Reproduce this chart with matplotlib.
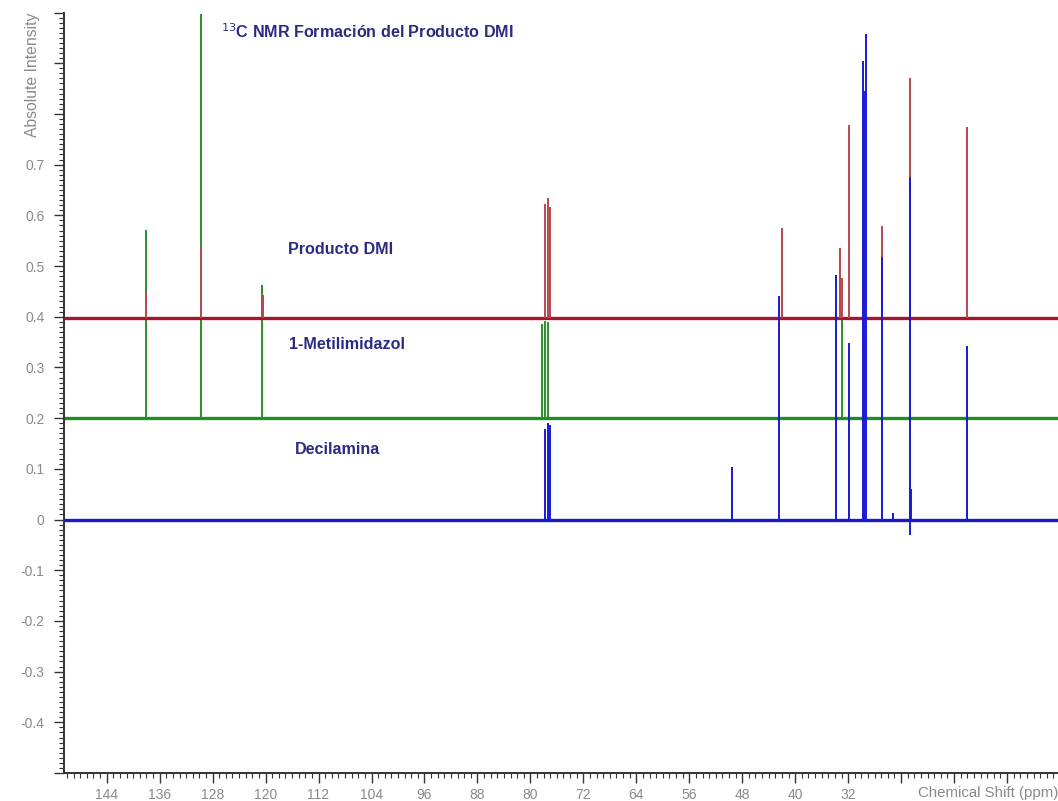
import matplotlib
matplotlib.use("Agg")
import matplotlib.pyplot as plt
from matplotlib.ticker import MultipleLocator, FuncFormatter

plt.rcParams['font.family'] = ['Liberation Sans', 'DejaVu Sans']

# ---- data (ppm, absolute intensity) ----
red_base = 0.398
red_ppm = [138.1, 129.7, 120.4, 77.8, 77.4, 77.0, 42.0, 33.3, 33.0, 31.9, 26.9, 22.6, 14.1]
red_val = [0.450, 0.535, 0.443, 0.622, 0.635, 0.617, 0.574, 0.535, 0.476, 0.778, 0.578, 0.870, 0.775]

green_base = 0.200
green_ppm = [138.1, 129.7, 120.5, 78.2, 77.8, 77.4, 33.0]
green_val = [0.571, 0.998, 0.463, 0.385, 0.392, 0.390, 0.395]

blue_base = 0.0
blue_ppm = [77.8, 77.4, 77.0, 49.6, 42.4, 33.9, 31.9, 29.75, 29.6, 29.35, 26.9, 25.2, 22.7, 22.5, 22.6, 14.1]
blue_val = [0.178, 0.190, 0.187, 0.103, 0.441, 0.483, 0.349, 0.905, 0.845, 0.958, 0.518, 0.013, 0.676, 0.061, -0.031, 0.342]

labels = ["Producto DMI", "1-Metilimidazol", "Decilamina"]
title = r"$^{13}$C NMR Formación del Producto DMI"

fig = plt.figure(figsize=(10.58, 8.01), dpi=100)
ax = fig.add_axes([64/1058, (801-773)/801, (1058-64)/1058, (773-12.5)/801])

xmin, xmax = 150.45, 0.3
ax.set_xlim(xmin, xmax)
ax.set_ylim(-0.5, 1.0)

navy = "#2b2b83"
gray = "#8a8a8a"

# green (bottom layer)
ax.hlines(green_base, xmin, xmax, color="#228b22", lw=2.4, zorder=2)
ax.vlines(green_ppm, green_base, green_val, color="#2a8f2a", lw=1.4, zorder=2)
# red
ax.hlines(red_base, xmin, xmax, color="#a3162b", lw=2.4, zorder=3)
ax.vlines(red_ppm, red_base, red_val, color="#b8474f", lw=1.4, zorder=3)
# blue (top)
ax.hlines(blue_base, xmin, xmax, color="#1a1acd", lw=2.4, zorder=4)
ax.vlines(blue_ppm, blue_base, blue_val, color="#1a1ad6", lw=1.4, zorder=4)

# texts
fs = 11.6
ax.text(126.8, 0.962, title, color=navy, fontsize=fs, fontweight="bold", va="center", ha="left")
ax.text(116.6, 0.532, labels[0], color=navy, fontsize=fs, fontweight="bold", va="center", ha="left")
ax.text(116.4, 0.345, labels[1], color=navy, fontsize=fs, fontweight="bold", va="center", ha="left")
ax.text(115.5, 0.138, labels[2], color=navy, fontsize=fs, fontweight="bold", va="center", ha="left")

# spines
for s in ["top", "right"]:
    ax.spines[s].set_visible(False)
for s in ["left", "bottom"]:
    ax.spines[s].set_color("#333333")
    ax.spines[s].set_linewidth(1.4)

ax.xaxis.set_major_locator(MultipleLocator(8))
ax.xaxis.set_minor_locator(MultipleLocator(1))
ax.yaxis.set_major_locator(MultipleLocator(0.1))
ax.yaxis.set_minor_locator(MultipleLocator(0.01))

ax.xaxis.set_major_formatter(FuncFormatter(lambda v, p: f"{int(round(v))}" if v >= 31.5 and v <= 144.5 else ""))
def yfmt(v, p):
    if v < -0.45 or v > 0.75:
        return ""
    if abs(v) < 1e-9:
        return "0"
    return f"{v:.1f}"
ax.yaxis.set_major_formatter(FuncFormatter(yfmt))

ax.tick_params(axis="both", which="major", length=7, width=1.0, color="#333333",
               labelcolor=gray, labelsize=10)
ax.tick_params(axis="x", which="major", pad=4)
ax.tick_params(axis="y", which="major", pad=7)
ax.tick_params(axis="both", which="minor", length=3.5, width=0.8, color="#333333")

fig.text(33/1058, 1 - 13/801, "Absolute Intensity", rotation=90, color=gray,
         fontsize=11.3, ha="center", va="top")
fig.text(1.0, 1 - 793/801, "Chemical Shift (ppm)", color=gray, fontsize=10.8,
         ha="right", va="center")

fig.savefig("out.png", dpi=100)
